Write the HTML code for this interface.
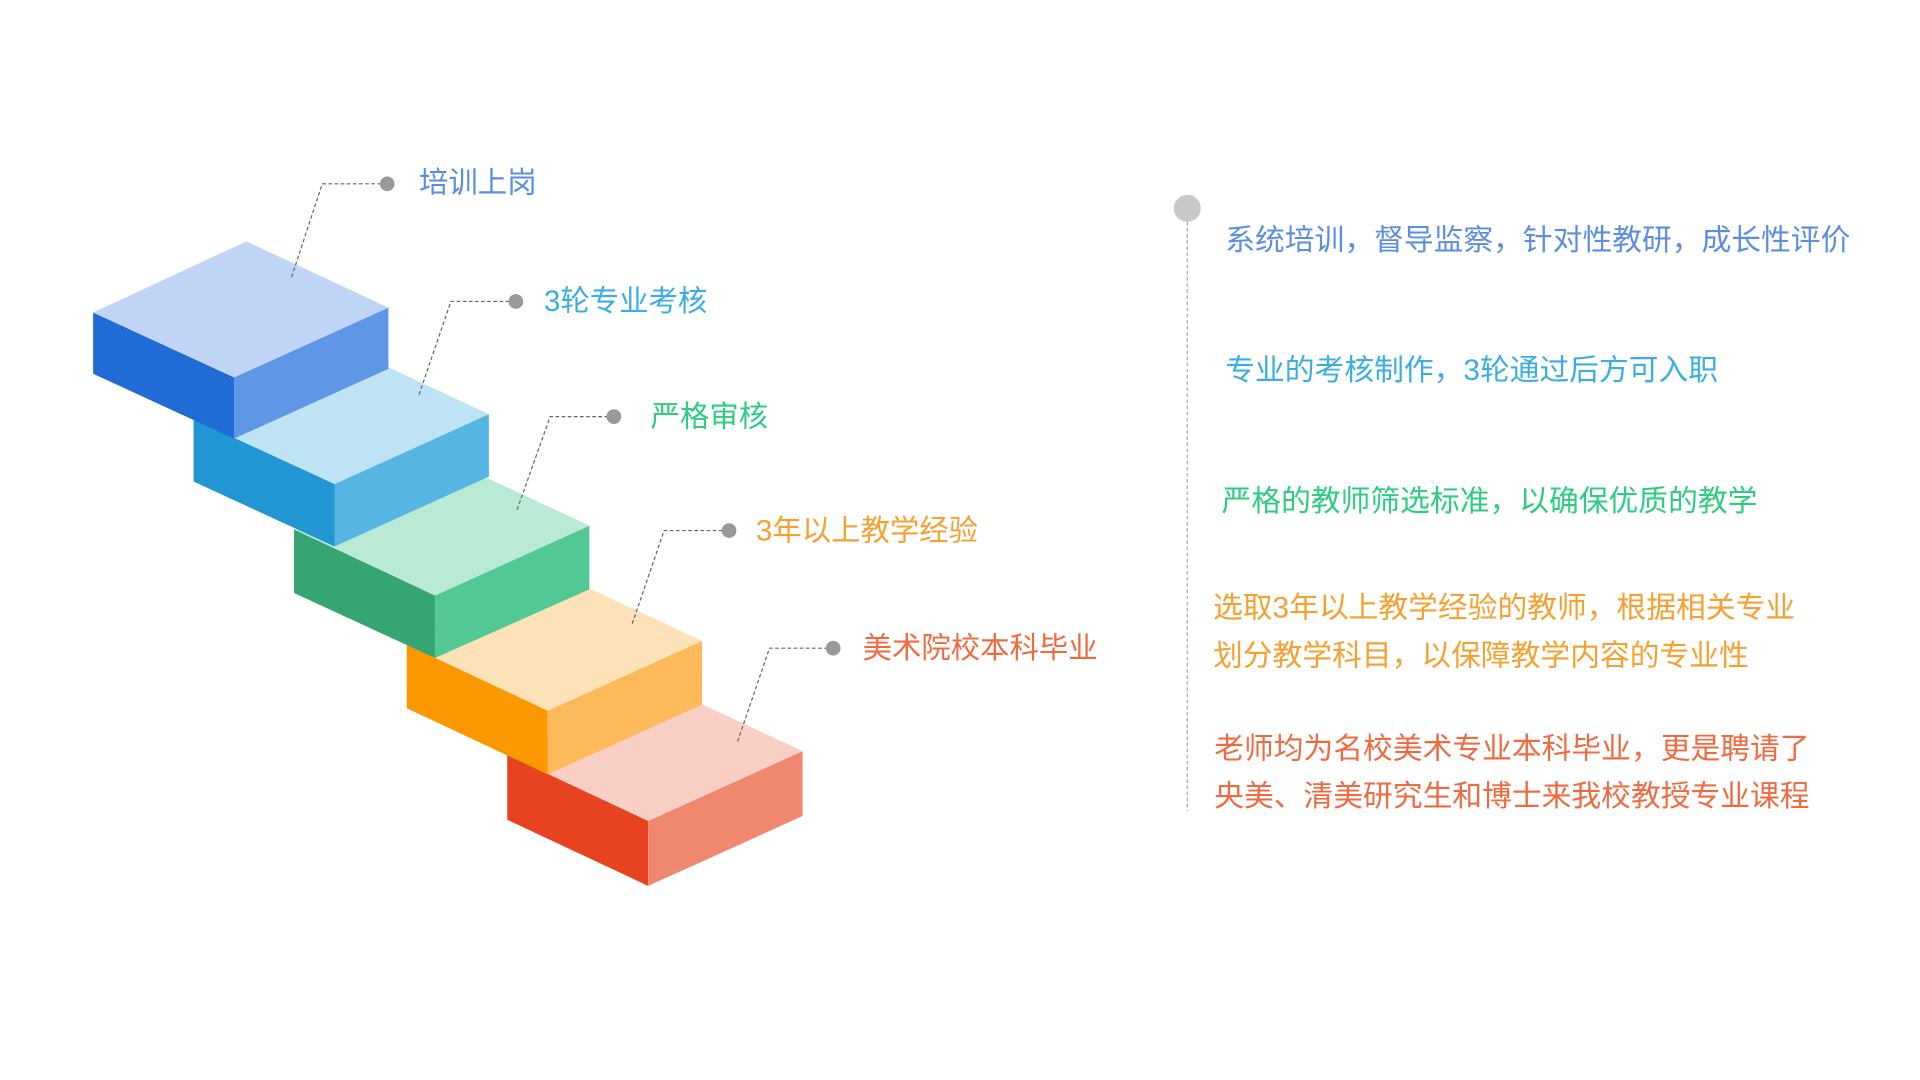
<!DOCTYPE html>
<html><head><meta charset="utf-8"><style>
html,body{margin:0;padding:0;background:#fff;}
svg{display:block;}
text{font-family:"Liberation Sans","Noto Sans CJK SC",sans-serif;}
</style></head><body>
<svg width="1920" height="1080" viewBox="0 0 1567 881.4" xmlns="http://www.w3.org/2000/svg">
<rect width="1567" height="881.4" fill="#fff"/>
<g>
<polygon points="414,616 529,670 529,723 414,669" fill="#e84321"/>
<polygon points="529,670 655,613 655,666 529,723" fill="#f08870"/>
<polygon points="414,616 539,559 655,613 529,670" fill="#f9cfc5"/>
</g>
<g>
<polygon points="332,526 447,580 447,632 332,578" fill="#fb9800"/>
<polygon points="447,580 573,523 573,575 447,632" fill="#fdb95a"/>
<polygon points="332,526 457,469 573,523 447,580" fill="#fde2b8"/>
</g>
<g>
<polygon points="240,432 355,486 355,537 240,484" fill="#35a672"/>
<polygon points="355,486 481,429 481,481 355,537" fill="#52c994"/>
<polygon points="240,432 365,375 481,429 355,486" fill="#b9ead5"/>
</g>
<g>
<polygon points="158,342 273,395 273,446 158,393" fill="#2196d3"/>
<polygon points="273,395 399,338 399,389 273,446" fill="#57b5e3"/>
<polygon points="158,342 283,284 399,338 273,395" fill="#bde3f5"/>
</g>
<g>
<polygon points="76,255 191,308 191,358 76,305" fill="#216bd6"/>
<polygon points="191,308 317,251 317,301 191,358" fill="#5f97e6"/>
<polygon points="76,255 201,197 317,251 191,308" fill="#c0d5f5"/>
</g>
<g fill="none" stroke="#666" stroke-width="1" stroke-dasharray="3,2">
<polyline points="238,226 263,150 316,150"/>
<polyline points="342,322 368,246 421,246"/>
<polyline points="422,416 449,340 501,340"/>
<polyline points="516,509 542,433 595,433"/>
<polyline points="602,605 628,529 680,529"/>
</g>
<g fill="#999">
<circle cx="316" cy="150" r="6"/><circle cx="421" cy="246" r="6"/><circle cx="501" cy="340" r="6"/><circle cx="595" cy="433" r="6"/><circle cx="680" cy="529" r="6"/>
</g>
<g font-size="24">
<text x="342" y="157" fill="#5b8ee0">培训上岗</text>
<text x="444" y="254" fill="#3aaee0">3轮专业考核</text>
<text x="531" y="348" fill="#2ecc80">严格审核</text>
<text x="617" y="441" fill="#f5a030">3年以上教学经验</text>
<text x="704" y="537" fill="#f06a40">美术院校本科毕业</text>
</g>
<line x1="969" y1="176" x2="969" y2="662" stroke="#aaa" stroke-width="1" stroke-dasharray="3,2"/>
<circle cx="969" cy="170" r="11" fill="#c8c8c8"/>
<g font-size="24.3">
<text x="1000" y="204" fill="#5b8ee0">系统培训，督导监察，针对性教研，成长性评价</text>
<text x="1000" y="310" fill="#3aaee0">专业的考核制作，3轮通过后方可入职</text>
<text x="997" y="417" fill="#2ecc80">严格的教师筛选标准，以确保优质的教学</text>
<text x="990" y="504" fill="#f5a030">选取3年以上教学经验的教师，根据相关专业</text>
<text x="990" y="543" fill="#f5a030">划分教学科目，以保障教学内容的专业性</text>
<text x="991" y="619" fill="#f06a40">老师均为名校美术专业本科毕业，更是聘请了</text>
<text x="991" y="658" fill="#f06a40">央美、清美研究生和博士来我校教授专业课程</text>
</g>
</svg>
</body></html>
